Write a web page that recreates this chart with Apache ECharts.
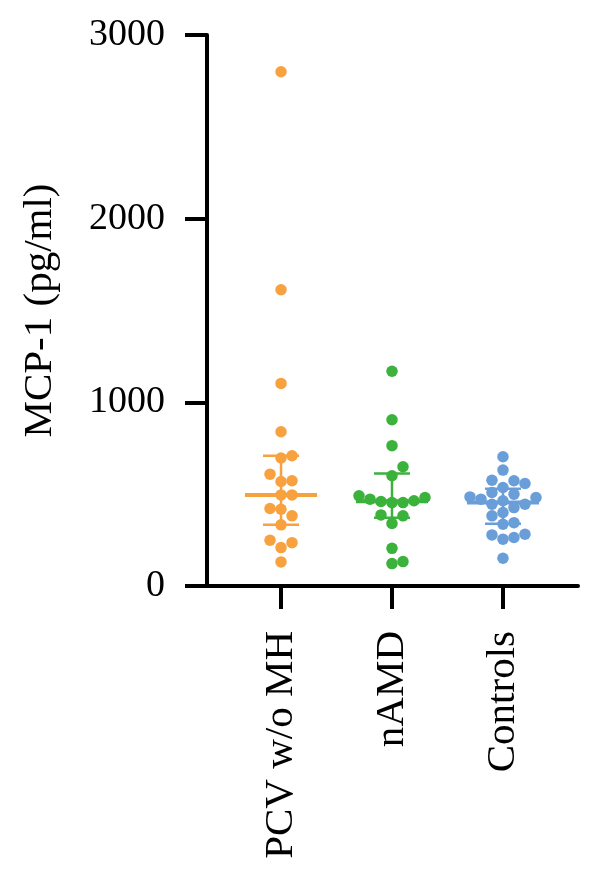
<!DOCTYPE html>
<html>
<head>
<meta charset="utf-8">
<script src="https://cdn.jsdelivr.net/npm/echarts@6/dist/echarts.min.js"></script>
<style>
  html, body { margin: 0; padding: 0; background: #fff; }
  #chart { width: 600px; height: 877px; }
</style>
</head>
<body>
<div id="chart"></div>
<script>
const categories = ['PCV w/o MH', 'nAMD', 'Controls']
const categoryPos = [0, 1, 2]
const yTicks = [0, 1000, 2000, 3000]

// values (pg/ml)
const pcvValues = [2800, 1613, 1103, 840, 709, 697, 609, 573, 569, 496, 496, 422, 418, 382, 333, 249, 236, 209, 131]
const namdValues = [1169, 905, 764, 649, 600, 491, 482, 473, 464, 460, 454, 454, 387, 382, 340, 205, 133, 122]
const controlValues = [704, 631, 576, 573, 558, 536, 509, 500, 485, 482, 473, 464, 445, 445, 427, 400, 382, 345, 336, 282, 278, 264, 255, 151]

const colors = ['#f8a13f', '#3bb23b', '#6a9ed9']

const gridTop = 35
const gridBottom = 291
const gridLeft = 207
const gridRight = 22
const xMin = -0.667
const xMax = 2.676
const plotHeight = 877 - gridTop - gridBottom
const unitPx = (600 - gridLeft - gridRight) / (xMax - xMin)
const dotSize = 11.5

// simple beeswarm so dots with close values sit side by side
const swarm = (values, idx) => {
  const pxPerUnit = plotHeight / 3000
  const placed = []
  const out = []
  const sorted = [...values].sort((a, b) => a - b)
  sorted.forEach(v => {
    const py = v * pxPerUnit
    for (let i = 0; i < 40; i++) {
      const k = i === 0 ? 0 : (i % 2 ? Math.ceil(i / 2) : -i / 2)
      const px = k * 11
      const clash = placed.some(p => (p[0] - px) ** 2 + (p[1] - py) ** 2 < 11 * 11 * 0.95)
      if (!clash) {
        placed.push([px, py])
        out.push([idx + px / unitPx, v])
        break
      }
    }
  })
  return out
}

const quantile = (values, p) => {
  const s = [...values].sort((a, b) => a - b)
  const pos = (s.length + 1) * p - 1
  const lo = Math.max(0, Math.floor(pos))
  const hi = Math.min(s.length - 1, lo + 1)
  return s[lo] + (s[hi] - s[lo]) * (pos - lo)
}

const groups = [pcvValues, namdValues, controlValues]
const summary = groups.map((vals, i) => [i, quantile(vals, 0.5), quantile(vals, 0.25), quantile(vals, 0.75)])

const serifFont = '"Liberation Serif", "DejaVu Serif", serif'

const chart = echarts.init(document.getElementById('chart'))

const option = {
  animation: false,
  grid: {
    top: gridTop,
    bottom: gridBottom,
    left: gridLeft,
    right: gridRight,
    containLabel: false,
    outerBoundsMode: 'none'
  },
  xAxis: {
    type: 'value',
    min: xMin,
    max: xMax,
    splitLine: { show: false },
    axisLine: { show: true, onZero: false, lineStyle: { color: '#000', width: 4 } },
    axisTick: { show: true, length: 23, customValues: categoryPos, lineStyle: { color: '#000', width: 4 } },
    axisLabel: {
      customValues: categoryPos,
      rotate: 90,
      margin: 45,
      color: '#000',
      fontFamily: serifFont,
      fontSize: 41,
      formatter: v => categories[Math.round(v)] || ''
    }
  },
  yAxis: {
    type: 'value',
    min: 0,
    max: 3000,
    interval: 1000,
    name: 'MCP-1 (pg/ml)',
    nameLocation: 'middle',
    nameGap: 146,
    nameTextStyle: { color: '#000', fontFamily: serifFont, fontSize: 41 },
    axisLine: { show: true, onZero: false, lineStyle: { color: '#000', width: 4 } },
    axisTick: { show: true, length: 22, lineStyle: { color: '#000', width: 4 } },
    splitLine: { show: false },
    axisLabel: {
      margin: 42,
      color: '#000',
      fontFamily: serifFont,
      fontSize: 38,
      formatter: v => (yTicks.includes(v) ? String(v) : '')
    }
  },
  series: [
    ...groups.map((vals, i) => ({
      type: 'scatter',
      symbolSize: dotSize,
      itemStyle: { color: colors[i], opacity: 1 },
      data: swarm(vals, i),
      z: 2
    })),
    {
      type: 'custom',
      data: summary,
      z: 3,
      renderItem: (params, api) => {
        const idx = api.value(0)
        const mid = api.coord([idx, api.value(1)])
        const lo = api.coord([idx, api.value(2)])
        const hi = api.coord([idx, api.value(3)])
        const color = colors[idx]
        const x = mid[0]
        return {
          type: 'group',
          children: [
            { type: 'line', shape: { x1: x - 36, y1: mid[1], x2: x + 36, y2: mid[1] }, style: { stroke: color, lineWidth: 4 } },
            { type: 'line', shape: { x1: x, y1: lo[1], x2: x, y2: hi[1] }, style: { stroke: color, lineWidth: 2.5 } },
            { type: 'line', shape: { x1: x - 18, y1: lo[1], x2: x + 18, y2: lo[1] }, style: { stroke: color, lineWidth: 2.5 } },
            { type: 'line', shape: { x1: x - 18, y1: hi[1], x2: x + 18, y2: hi[1] }, style: { stroke: color, lineWidth: 2.5 } }
          ]
        }
      }
    }
  ]
}

chart.setOption(option)
</script>
</body>
</html>
